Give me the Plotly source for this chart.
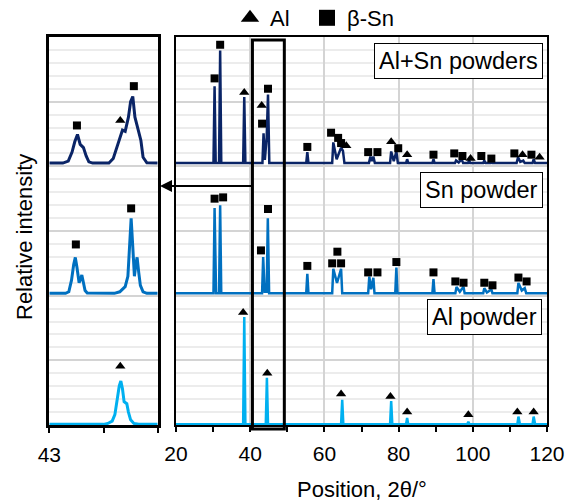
import plotly.graph_objects as go

W, H = 568, 503
FONT = "Liberation Sans, Arial, sans-serif"
C_ALSN = "#0A2466"
C_SN = "#0070C0"
C_AL = "#00B0F0"

# ---------------- right panel (full scan 20-120 deg) ----------------
alsn_x = [20, 30.1, 30.4, 30.7, 31.6, 31.9, 32.2, 38.1, 38.4, 38.7,
          43.3, 43.6, 43.95, 44.45, 44.8, 45.15, 55.1, 55.4, 55.7,
          62.1, 62.4, 63.3, 64.5, 65.0, 65.4, 72.0, 72.4, 72.8, 73.2, 73.6,
          77.7, 78.0, 78.7, 79.4, 79.8, 82.0, 82.3, 82.6, 89.1, 89.4, 89.7,
          95.2, 95.5, 96.2, 97.0, 97.4, 98.7, 99.0, 99.3, 102.8, 103.1, 103.5,
          104.7, 105.0, 105.3, 111.8, 112.2, 112.8, 113.6, 114.0,
          116.1, 116.4, 116.8, 120]
alsn_y = [2.025, 2.025, 2.62, 2.025, 2.025, 2.895, 2.025, 2.025, 2.535, 2.025,
          2.025, 2.255, 2.05, 2.225, 2.555, 2.025, 2.025, 2.11, 2.025,
          2.025, 2.185, 2.055, 2.145, 2.12, 2.025, 2.025, 2.075, 2.04, 2.075, 2.025,
          2.025, 2.115, 2.04, 2.115, 2.025, 2.025, 2.055, 2.025, 2.025, 2.055, 2.025,
          2.025, 2.045, 2.03, 2.055, 2.025, 2.025, 2.045, 2.025, 2.025, 2.045, 2.025,
          2.025, 2.045, 2.025, 2.025, 2.07, 2.035, 2.045, 2.025,
          2.025, 2.055, 2.025, 2.025]

sn_x = [20, 30.1, 30.4, 30.8, 31.6, 31.9, 32.2, 43.2, 43.5, 43.9, 44.45, 44.75, 45.1,
        55.1, 55.4, 55.7, 62.1, 62.4, 63.4, 64.5, 64.8,
        71.8, 72.1, 72.6, 73.2, 73.5, 79.1, 79.4, 79.7, 89.1, 89.4, 89.7,
        95.3, 95.6, 96.5, 97.5, 97.8, 102.8, 103.1, 103.8, 105.0, 105.3,
        112.0, 112.3, 113.2, 114.0, 114.4, 120]
sn_y = [1.018, 1.018, 1.678, 1.018, 1.018, 1.698, 1.018, 1.018, 1.298, 1.03, 1.03, 1.598, 1.018,
        1.018, 1.168, 1.018, 1.018, 1.208, 1.098, 1.208, 1.018,
        1.018, 1.148, 1.05, 1.138, 1.018, 1.018, 1.218, 1.018, 1.018, 1.128, 1.018,
        1.018, 1.068, 1.03, 1.068, 1.018, 1.018, 1.058, 1.025, 1.048, 1.018,
        1.018, 1.098, 1.04, 1.058, 1.018, 1.018]

al_x = [20, 38.1, 38.4, 38.7, 44.2, 44.5, 44.8, 64.5, 64.8, 65.1, 77.7, 78.0, 78.3,
        82.0, 82.3, 82.6, 98.5, 98.8, 99.1, 112.0, 112.3, 112.7, 116.1, 116.4, 116.8, 120]
al_y = [0.005, 0.005, 0.835, 0.005, 0.005, 0.365, 0.005, 0.005, 0.195, 0.005, 0.005, 0.185, 0.005,
        0.005, 0.055, 0.005, 0.005, 0.025, 0.005, 0.005, 0.065, 0.005, 0.005, 0.065, 0.005, 0.005]

# phase markers, right panel
tri_x = [38.4, 43.1, 65.9, 78.0, 82.3, 99.4, 113.4, 118.0,
         38.1, 44.6, 64.5, 77.8, 82.3, 98.8, 112.0, 116.4]
tri_y = [2.57, 2.47, 2.16, 2.19, 2.09, 2.06, 2.09, 2.07,
         0.87, 0.40, 0.24, 0.22, 0.10, 0.08, 0.10, 0.10]
sq_x = [30.4, 31.9, 43.2, 44.8, 55.4, 61.8, 63.7, 64.5, 71.8, 74.3, 79.9, 89.4,
        95.0, 97.2, 102.3, 105.0, 111.2, 115.8,
        30.4, 32.7, 42.9, 44.8, 55.4, 62.1, 63.5, 64.5, 71.8, 74.3, 79.4, 89.4,
        95.3, 97.5, 103.1, 105.3, 112.3, 114.5]
sq_y = [2.68, 2.94, 2.33, 2.60, 2.15, 2.26, 2.22, 2.18, 2.11, 2.11, 2.14, 2.09,
        2.10, 2.08, 2.08, 2.06, 2.10, 2.09,
        1.75, 1.76, 1.35, 1.67, 1.23, 1.25, 1.34, 1.25, 1.18, 1.18, 1.26, 1.18,
        1.11, 1.10, 1.10, 1.08, 1.14, 1.11]

# ---------------- left panel (zoom 43-45 deg) ----------------
z_alsn_x = [43.0, 43.25, 43.35, 43.42, 43.47, 43.52, 43.57, 43.63, 43.68, 43.73, 43.8,
            44.1, 44.18, 44.27, 44.35, 44.40, 44.46, 44.50, 44.54, 44.58, 44.63,
            44.69, 44.73, 44.80, 45.0]
z_alsn_y = [2.025, 2.025, 2.04, 2.11, 2.19, 2.246, 2.17, 2.145, 2.08, 2.035, 2.025,
            2.025, 2.06, 2.18, 2.28, 2.27, 2.38, 2.50, 2.54, 2.38, 2.305,
            2.20, 2.07, 2.027, 2.025]
z_sn_x = [43.0, 43.3, 43.36, 43.41, 43.45, 43.48, 43.51, 43.55, 43.58, 43.60, 43.63,
          43.66, 43.70, 44.2, 44.3, 44.4, 44.45, 44.48, 44.51, 44.54, 44.57, 44.60,
          44.62, 44.65, 44.68, 44.73, 44.80, 45.0]
z_sn_y = [1.018, 1.018, 1.03, 1.12, 1.24, 1.296, 1.22, 1.10, 1.13, 1.16, 1.10,
          1.04, 1.02, 1.018, 1.03, 1.07, 1.15, 1.35, 1.597, 1.38, 1.15, 1.25,
          1.296, 1.18, 1.08, 1.03, 1.018, 1.018]
z_al_x = [43.0, 44.0, 44.08, 44.16, 44.21, 44.25, 44.29, 44.32, 44.35, 44.38, 44.41,
          44.43, 44.46, 44.50, 44.56, 44.65, 45.0]
z_al_y = [0.005, 0.005, 0.012, 0.03, 0.08, 0.19, 0.30, 0.34, 0.28, 0.18, 0.17,
          0.165, 0.10, 0.04, 0.012, 0.005, 0.005]
z_tri_x = [44.31, 44.31]
z_tri_y = [2.355, 0.454]
z_sq_x = [43.51, 44.56, 43.49, 44.51]
z_sq_y = [2.316, 2.62, 1.396, 1.675]

fig = go.Figure()

def line(x, y, color, ax, w):
    fig.add_trace(go.Scatter(x=x, y=y, mode="lines", line=dict(color=color, width=w),
                             xaxis=ax, yaxis="y" if ax == "x" else "y2",
                             showlegend=False, hoverinfo="skip"))

line(alsn_x, alsn_y, C_ALSN, "x2", 2.5)
line(sn_x, sn_y, C_SN, "x2", 2.5)
line(al_x, al_y, C_AL, "x2", 2.5)
line(z_alsn_x, z_alsn_y, C_ALSN, "x", 3)
line(z_sn_x, z_sn_y, C_SN, "x", 3)
line(z_al_x, z_al_y, C_AL, "x", 3)

def marks(x, y, sym, size, ax):
    fig.add_trace(go.Scatter(x=x, y=y, mode="markers",
                             marker=dict(symbol=sym, size=size, color="black"),
                             xaxis=ax, yaxis="y" if ax == "x" else "y2",
                             showlegend=False, cliponaxis=False, hoverinfo="skip"))

marks(tri_x, tri_y, "triangle-up", 9, "x2")
marks(sq_x, sq_y, "square", 8, "x2")
marks(z_tri_x, z_tri_y, "triangle-up", 9, "x")
marks(z_sq_x, z_sq_y, "square", 8, "x")

# legend entries (two legends so each can be placed like the reference)
fig.add_trace(go.Scatter(x=[None], y=[None], mode="markers", name="Al",
                         marker=dict(symbol="triangle-up", size=16, color="black"),
                         xaxis="x2", yaxis="y2", legend="legend"))
fig.add_trace(go.Scatter(x=[None], y=[None], mode="markers", name="β-Sn",
                         marker=dict(symbol="square", size=16, color="black"),
                         xaxis="x2", yaxis="y2", legend="legend2"))

ydom = [(H - 425) / H, (H - 37) / H]
yax = dict(range=[0, 3], domain=ydom, showticklabels=False, ticks="",
           tickmode="linear", tick0=0, dtick=0.5,
           showgrid=True, gridcolor="#d4d4d4", gridwidth=1.5,
           minor=dict(tickmode="linear", dtick=0.1, showgrid=True,
                      gridcolor="#ececec", gridwidth=1.5),
           zeroline=False, fixedrange=True, automargin=False)

leg = dict(orientation="h", xanchor="left", y=(H - 18) / H, yanchor="middle",
           font=dict(size=22), bgcolor="rgba(0,0,0,0)", borderwidth=0)

fig.update_layout(
    template="none",
    width=W, height=H, margin=dict(l=0, r=0, t=0, b=0, pad=0, autoexpand=False),
    paper_bgcolor="white", plot_bgcolor="white",
    font=dict(family=FONT, size=21, color="black"),
    xaxis=dict(domain=[49.3 / W, 157.7 / W], range=[43, 45],
               tickmode="array", tickvals=[43, 44, 45], ticktext=["43", "", ""],
               ticks="outside", ticklen=5, tickwidth=2, tickcolor="black",
               ticklabelstandoff=4, automargin=False,
               showline=True, linecolor="black", linewidth=3, mirror=True,
               showgrid=False, zeroline=False, anchor="y"),
    yaxis=dict(yax, anchor="x", showline=True, linecolor="black", linewidth=3, mirror=True),
    xaxis2=dict(domain=[176 / W, 547 / W], range=[20, 120],
                tickmode="array", tickvals=[20, 40, 60, 80, 100, 120],
                ticks="outside", ticklen=5, tickwidth=1.5, tickcolor="black",
                ticklabelstandoff=4, automargin=False,
                minor=dict(tickmode="linear", tick0=0, dtick=10, ticks="outside", ticklen=5,
                           tickwidth=1.5, tickcolor="black", showgrid=False),
                showline=True, linecolor="black", linewidth=1.5, mirror=True,
                showgrid=True, gridcolor="#d4d4d4", gridwidth=1.5,
                zeroline=False, anchor="y2"),
    yaxis2=dict(yax, anchor="x2", showline=True, linecolor="black", linewidth=1.5, mirror=True),
    legend=dict(leg, x=230 / W),
    legend2=dict(leg, x=307 / W),
    showlegend=True,
    hovermode=False,
)

# highlight box on the full scan
fig.add_shape(type="rect", xref="x2", yref="paper", x0=40.6, x1=49.2,
              y0=(H - 429) / H, y1=(H - 40) / H, line=dict(color="black", width=3))

# arrow from box to zoom panel
fig.add_annotation(x=160 / W, y=(H - 186) / H, xref="paper", yref="paper",
                   text="", showarrow=True, ax=93, ay=0, arrowhead=2,
                   arrowsize=1.2, arrowwidth=2, arrowcolor="black")

def label(txt, xr, yc):
    fig.add_annotation(x=xr / W, y=(H - yc) / H, xref="paper", yref="paper",
                       text=txt, showarrow=False, xanchor="right", yanchor="middle",
                       bgcolor="white", bordercolor="black", borderwidth=1, borderpad=4,
                       font=dict(size=23.5))

label("Al+Sn powders", 543, 61)
label("Sn powder", 543, 190)
label("Al powder", 542, 317)

fig.add_annotation(x=24 / W, y=(H - 237) / H, xref="paper", yref="paper",
                   xanchor="center", yanchor="middle",
                   text="Relative intensity", textangle=-90, showarrow=False,
                   font=dict(size=22))
fig.add_annotation(x=362 / W, y=(H - 489) / H, xref="paper", yref="paper",
                   xanchor="center", yanchor="middle",
                   text="Position, 2θ/°", showarrow=False, font=dict(size=22))

fig.write_html("out.html")
